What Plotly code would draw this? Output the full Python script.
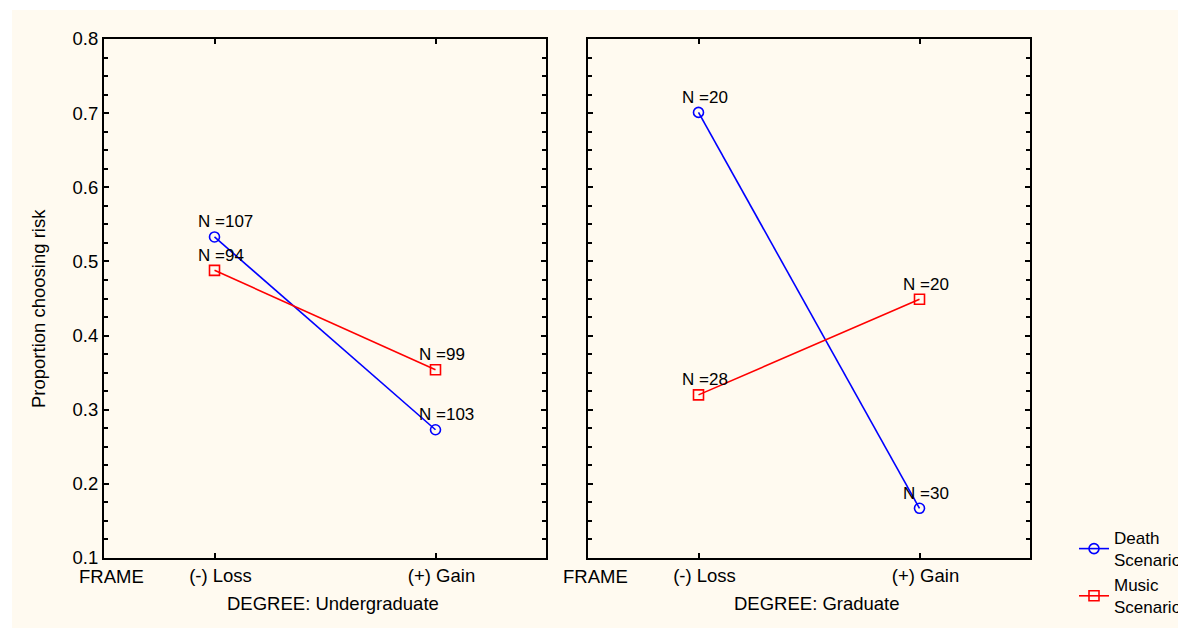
import plotly.graph_objects as go

# ---- data ----
frame_labels = ["(-) Loss", "(+) Gain"]
frame_pos = [0, 1]
degree_titles = ["DEGREE: Undergraduate", "DEGREE: Graduate"]
y_title = "Proportion choosing risk"
death_ug = [0.533, 0.273]
music_ug = [0.488, 0.354]
death_gr = [0.701, 0.167]
music_gr = [0.320, 0.449]
death_n_ug = ["N =107", "N =103"]
music_n_ug = ["N =94", "N =99"]
death_n_gr = ["N =20", "N =30"]
music_n_gr = ["N =28", "N =20"]
y_ticks = [0.1, 0.2, 0.3, 0.4, 0.5, 0.6, 0.7, 0.8]

# page has an 8px body margin; figure offset by it (overflowing right/bottom edge)
OFF = 8
W, H = 1186, 628
ML = 104 - OFF
MT = 39 - OFF
MR = W - (1030 - OFF)
MB = H - (558 - OFF)
PW = W - ML - MR
PH = H - MT - MB

def px(p):  # window pixel -> paper x
    return (p - OFF - ML) / PW

def py(q):  # window pixel -> paper y
    return (H - MB - (q - OFF)) / PH

BLUE = "#0000FF"
RED = "#FF0000"
FONT = "Liberation Sans, Arial, sans-serif"
FS = 18.5

fig = go.Figure()

panels = [
    ("x", "y", death_ug, music_ug, death_n_ug, music_n_ug, True),
    ("x2", "y2", death_gr, music_gr, death_n_gr, music_n_gr, False),
]
for xa, ya, d, m, dn, mn, showleg in panels:
    fig.add_trace(go.Scatter(
        x=frame_pos, y=d, xaxis=xa, yaxis=ya, mode="lines+markers",
        name="Death<br>Scenario", legendgroup="death", showlegend=showleg,
        line=dict(color=BLUE, width=1.6),
        marker=dict(symbol="circle-open", size=10, color=BLUE, line=dict(width=1.6)),
    ))
    fig.add_trace(go.Scatter(
        x=frame_pos, y=m, xaxis=xa, yaxis=ya, mode="lines+markers",
        name="Music<br>Scenario", legendgroup="music", showlegend=showleg,
        line=dict(color=RED, width=1.6),
        marker=dict(symbol="square-open", size=10, color=RED, line=dict(width=1.6)),
    ))
    for vals, labs in ((d, dn), (m, mn)):
        for xv, yv, t in zip(frame_pos, vals, labs):
            fig.add_annotation(
                x=xv, y=yv, xref=xa, yref=ya, text=t, showarrow=False,
                xanchor="left", yanchor="middle", xshift=-19, yshift=15,
                font=dict(family=FONT, size=17, color="black"),
            )

axis_common = dict(
    showline=True, linecolor="black", linewidth=2, mirror="ticks",
    ticks="inside", ticklen=5, tickwidth=1.5, tickcolor="black",
    showgrid=False, zeroline=False,
    tickfont=dict(family=FONT, size=FS, color="black"),
)

d1 = [0, px(546)]
d2 = [px(588), 1]
fig.update_layout(
    width=W, height=H,
    margin=dict(l=ML, r=MR, t=MT, b=MB, autoexpand=False),
    paper_bgcolor="white", plot_bgcolor="white",
    font=dict(family=FONT, size=FS, color="black"),
    xaxis=dict(domain=d1, range=[-0.5, 1.5], tickvals=frame_pos, ticktext=frame_labels,
               ticklabelshift=6, **axis_common),
    xaxis2=dict(domain=d2, range=[-0.5, 1.5], tickvals=frame_pos, ticktext=frame_labels,
                ticklabelshift=6, anchor="y2", **axis_common),
    yaxis=dict(range=[0.1, 0.8], tickvals=y_ticks, tickformat=".1f",
               minor=dict(dtick=0.025, tick0=0.1, ticks="inside", ticklen=4, tickcolor="black"),
               **axis_common),
    yaxis2=dict(range=[0.1, 0.8], tickvals=y_ticks, showticklabels=False, anchor="x2",
                minor=dict(dtick=0.025, tick0=0.1, ticks="inside", ticklen=4, tickcolor="black"),
                **axis_common),
    legend=dict(x=px(1074), y=py(520), xanchor="left", yanchor="top",
                bgcolor="rgba(0,0,0,0)", font=dict(family=FONT, size=17),
                tracegroupgap=0),
    showlegend=True,
)

# cream page background (leaves a thin white strip at top/left)
fig.add_shape(type="rect", xref="paper", yref="paper", layer="below",
              x0=px(12), x1=px(1186 + 40), y0=py(628 + 40), y1=py(10),
              fillcolor="#FFFAF0", line=dict(width=0))

# y-axis title
fig.add_annotation(x=px(38), y=py(309), xref="paper", yref="paper", text=y_title,
                   showarrow=False, textangle=-90, xanchor="center", yanchor="middle",
                   font=dict(family=FONT, size=FS))

# FRAME labels and degree titles
for dom, title in ((d1, degree_titles[0]), (d2, degree_titles[1])):
    fig.add_annotation(x=dom[0], y=py(576), xref="paper", yref="paper", text="FRAME",
                       showarrow=False, xanchor="center", yanchor="middle", xshift=7,
                       font=dict(family=FONT, size=FS))
    fig.add_annotation(x=(dom[0] + dom[1]) / 2, y=py(603), xref="paper", yref="paper",
                       text=title, showarrow=False, xanchor="center", yanchor="middle",
                       xshift=8, font=dict(family=FONT, size=FS))

fig.write_html("out.html")
